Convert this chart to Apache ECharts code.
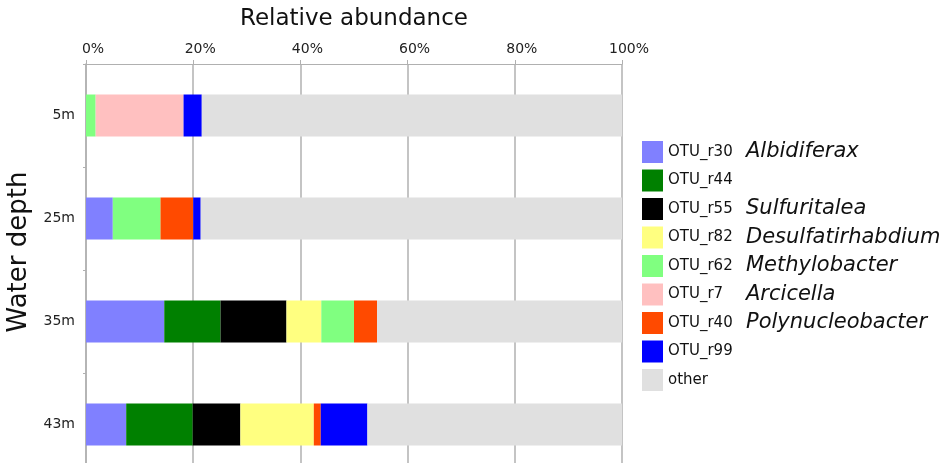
<!DOCTYPE html>
<html>
<head>
<meta charset="utf-8">
<script src="https://cdn.jsdelivr.net/npm/echarts@6/dist/echarts.min.js"></script>
<style>
  html, body { margin: 0; padding: 0; background: #fff; }
  #myChart { width: 942px; height: 463px; }
</style>
</head>
<body>
<div id="myChart"></div>
<script>
// depths, top to bottom
var depths = ['5m', '25m', '35m', '43m']
var xTicks = [0, 20, 40, 60, 80, 100]

var otuNames = ['OTU_r30', 'OTU_r44', 'OTU_r55', 'OTU_r82', 'OTU_r62', 'OTU_r7', 'OTU_r40', 'OTU_r99']
var genusNames = ['Albidiferax', '', 'Sulfuritalea', 'Desulfatirhabdium', 'Methylobacter', 'Arcicella', 'Polynucleobacter', '']
var otuColors = ['#8080ff', '#008000', '#000000', '#ffff80', '#80ff80', '#ffc0c0', '#ff4a00', '#0000ff']

// relative abundance (%) per depth
var r30 = [0, 5.0, 14.6, 7.5]
var r44 = [0, 0, 10.5, 12.4]
var r55 = [0, 0, 12.3, 8.9]
var r82 = [0, 0, 6.5, 13.7]
var r62 = [1.8, 8.9, 6.1, 0]
var r7 = [16.4, 0, 0, 0]
var r40 = [0, 6.1, 4.3, 1.3]
var r99 = [3.4, 1.4, 0, 8.7]

var otuValues = [r30, r44, r55, r82, r62, r7, r40, r99]
var other = depths.map(function (d, i) {
  var s = 0
  otuValues.forEach(function (v) { s += v[i] })
  return +(100 - s).toFixed(1)
})

var genusOf = {}
otuNames.forEach(function (n, i) { genusOf[n] = genusNames[i] })

var series = otuNames.map(function (n, i) {
  return {
    name: n,
    type: 'bar',
    stack: 'total',
    barWidth: 42,
    itemStyle: { color: otuColors[i] },
    data: otuValues[i]
  }
})
series.push({
  name: 'other',
  type: 'bar',
  stack: 'total',
  barWidth: 42,
  itemStyle: { color: '#e0e0e0' },
  data: other
})

var myChart = echarts.init(document.getElementById('myChart'))
var option = {
  animation: false,
  textStyle: { fontFamily: 'DejaVu Sans' },
  grid: { left: 86, top: 64, width: 536, height: 412, outerBoundsMode: 'none', containLabel: false },
  legend: {
    orient: 'vertical',
    left: 642,
    top: 141,
    padding: 0,
    itemWidth: 21,
    itemHeight: 22,
    itemGap: 6.5,
    icon: 'rect',
    data: otuNames.concat(['other']),
    formatter: function (name) {
      var g = genusOf[name]
      if (!g) return '{a|' + name + '}'
      return '{a|' + name + '}{b|' + g + '}'
    },
    textStyle: {
      rich: {
        a: { fontFamily: 'DejaVu Sans', fontSize: 15, color: '#111', width: 78 },
        b: { fontFamily: 'DejaVu Sans', fontSize: 21, fontStyle: 'italic', color: '#111' }
      }
    }
  },
  xAxis: {
    type: 'value',
    position: 'top',
    min: xTicks[0],
    max: xTicks[xTicks.length - 1],
    interval: 20,
    name: 'Relative abundance',
    nameLocation: 'middle',
    nameGap: 33,
    nameTextStyle: { fontSize: 23, color: '#111', fontFamily: 'DejaVu Sans' },
    axisLine: { show: true, lineStyle: { color: '#b0b0b0' } },
    axisTick: { show: true, length: 4, lineStyle: { color: '#b0b0b0' } },
    axisLabel: { formatter: '{value}%', fontSize: 14, color: '#222', margin: 8, padding: [0, 0, 0, 14] },
    splitLine: { show: true, lineStyle: { color: '#b0b0b0', width: 1.5 } }
  },
  yAxis: {
    type: 'category',
    inverse: true,
    data: depths,
    name: 'Water depth',
    nameLocation: 'middle',
    nameGap: 52,
    nameTextStyle: { fontSize: 26, color: '#111', fontFamily: 'DejaVu Sans', padding: [0, 0, 0, 36] },
    axisLine: { show: true, lineStyle: { color: '#b0b0b0', width: 1.5 } },
    axisTick: { show: true, length: 3, lineStyle: { color: '#b0b0b0' } },
    axisLabel: { fontSize: 14, color: '#222', margin: 11 }
  },
  series: series
}
myChart.setOption(option, true)
</script>
</body>
</html>
